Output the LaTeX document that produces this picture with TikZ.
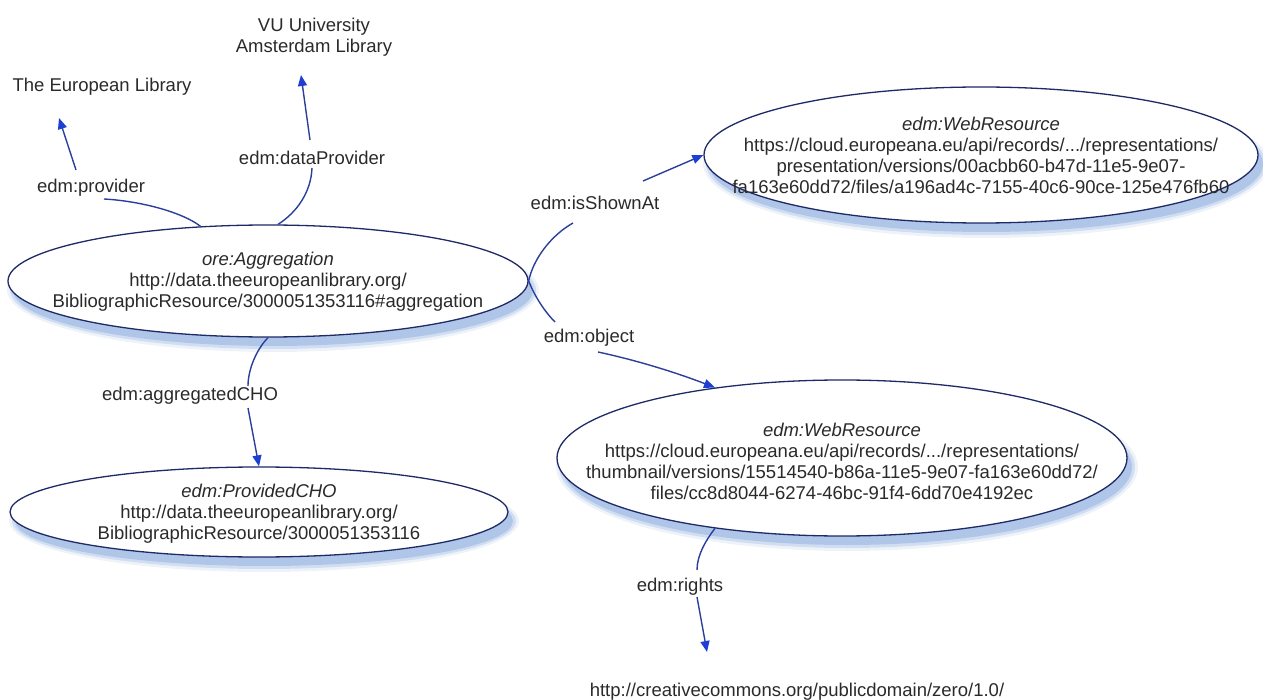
\documentclass[tikz,border=0pt]{standalone}
\usepackage{fontspec}
\setmainfont{Liberation Sans}
\usetikzlibrary{arrows.meta,shapes.geometric,calc}
\definecolor{ellline}{HTML}{1E2A66}
\definecolor{linkc}{HTML}{2B3F9A}
\definecolor{tipc}{HTML}{1E3FD4}
\definecolor{shadowc}{HTML}{8FAEE0}
\definecolor{txt}{HTML}{2A2A2A}
\pgfdeclarelayer{bg}
\pgfsetlayers{bg,main}
\newcommand{\ellshadow}[3]{%
  \foreach \e/\o in {6/0.15,3/0.3,0/0.5}{%
    \fill[shadowc, opacity=\o] ([shift={(5,9)}]#1.center) ellipse ({#2+\e} and {#3+\e});}}
\begin{document}
\begin{tikzpicture}[x=1pt,y=-1pt,
  every node/.style={text=txt, font=\fontsize{18.5}{21}\selectfont},
  ell/.style={ellipse, draw=ellline, line width=1.3pt, fill=white, inner sep=0pt},
  ttl/.style={align=center, inner sep=0pt},
  lbl/.style={inner sep=3pt},
  link/.style={draw=linkc, line width=1.4pt},
  arr/.style={link, -{Triangle[length=11pt,width=9pt,color=tipc]}},
]
\useasboundingbox (0,0) rectangle (1263,700);

% ellipses
\node[ell, minimum width=520pt, minimum height=112pt] (agg) at (268,281) {};
\node[ttl] (aggt) at (268,282) {\textit{ore:Aggregation}\\http://data.theeuropeanlibrary.org/\\BibliographicResource/3000051353116\#aggregation};

\node[ell, minimum width=498pt, minimum height=90pt] (cho) at (259,512) {};
\node[ttl] (chot) at (259,514) {\textit{edm:ProvidedCHO}\\http://data.theeuropeanlibrary.org/\\BibliographicResource/3000051353116};

\node[ell, minimum width=554pt, minimum height=136pt] (wr1) at (981,155) {};
\node[ttl] (wr1t) at (981,155) {\textit{edm:WebResource}\\https://cloud.europeana.eu/api/records/.../representations/\\presentation/versions/00acbb60-b47d-11e5-9e07-\\fa163e60dd72/files/a196ad4c-7155-40c6-90ce-125e476fb60};

\node[ell, minimum width=570pt, minimum height=156pt] (wr2) at (842,458) {};
\node[ttl] (wr2t) at (842,461) {\textit{edm:WebResource}\\https://cloud.europeana.eu/api/records/.../representations/\\thumbnail/versions/15514540-b86a-11e5-9e07-fa163e60dd72/\\files/cc8d8044-6274-46bc-91f4-6dd70e4192ec};

\begin{pgfonlayer}{bg}
  \ellshadow{agg}{260}{56}
  \ellshadow{cho}{249}{45}
  \ellshadow{wr1}{277}{68}
  \ellshadow{wr2}{285}{78}
\end{pgfonlayer}

% plain text nodes
\node (tel) at (102,87) {The European Library};
\node[align=center] (vu) at (314,37) {VU University\\Amsterdam Library};
\node (cc) at (797,692) {http://creativecommons.org/publicdomain/zero/1.0/};

% labels
\node[lbl] (prov) at (91,188) {edm:provider};
\node[lbl] (dprov) at (312,158) {edm:dataProvider};
\node[lbl] (shown) at (595,203) {edm:isShownAt};
\node[lbl] (obj) at (589,338) {edm:object};
\node[lbl] (aggcho) at (190,396) {edm:aggregatedCHO};
\node[lbl] (rts) at (680,587) {edm:rights};

% connectors
\draw[link] (agg.141) .. controls (182,212) and (140,201) .. ($(prov)+(13,11)$);
\draw[arr] ($(prov)+(-15,-18)$) -- ($(tel)+(-43,31)$);

\draw[link] (agg.80) .. controls (296,213) and (311,193) .. ($(dprov)+(0,10)$);
\draw[arr] ($(dprov)+(-2,-18)$) -- ($(vu)+(-13,38)$);

\draw[link] (agg.east) .. controls (533,260) and (550,236) .. ($(shown)+(-22,20)$);
\draw[arr] ($(shown)+(48,-22)$) -- (wr1.west);

\draw[link] (agg.east) .. controls (535,297) and (545,312) .. ($(obj)+(-34,-16)$);
\draw[arr] ($(obj)+(9,14)$) .. controls (640,361) and (680,374) .. (wr2.151);

\draw[link] (agg.south) .. controls (256,350) and (248,370) .. ($(aggcho)+(58,-10)$);
\draw[arr] ($(aggcho)+(58,12)$) -- (cho.north);

\draw[link] (wr2.209) .. controls (706,540) and (697,555) .. ($(rts)+(17,-17)$);
\draw[arr] ($(rts)+(17,10)$) -- ($(cc)+(-90,-40)$);
\end{tikzpicture}
\end{document}
